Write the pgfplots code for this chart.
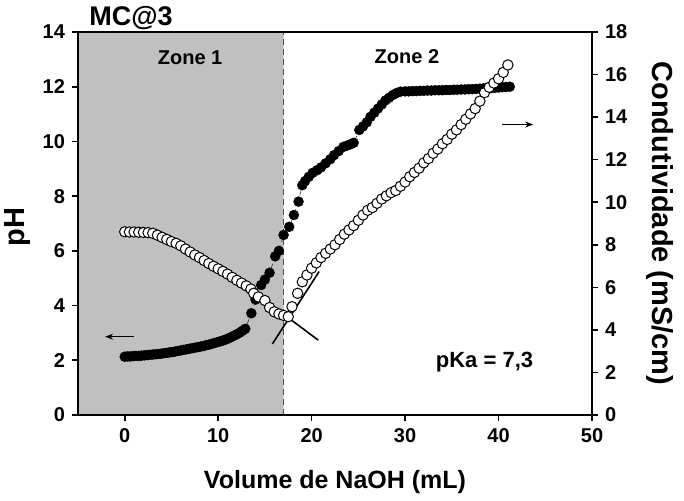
\documentclass[border=0pt]{standalone}
\usepackage{fontspec}
\setmainfont{Liberation Sans}
\usepackage{pgfplots}
\usepackage{pgfplotstable}
\pgfplotsset{compat=1.18}
\usetikzlibrary{arrows.meta}
\definecolor{zonegray}{RGB}{192,192,192}

\pgfplotstableread{
x y
0.0 2.13
0.3 2.14
0.6 2.14
0.9 2.15
1.2 2.16
1.5 2.16
1.8 2.17
2.1 2.18
2.4 2.19
2.7 2.20
3.0 2.21
3.3 2.22
3.6 2.23
3.9 2.24
4.2 2.26
4.5 2.27
4.8 2.29
5.1 2.30
5.4 2.32
5.7 2.34
6.0 2.36
6.3 2.38
6.6 2.40
6.9 2.42
7.2 2.44
7.5 2.46
7.8 2.48
8.1 2.50
8.4 2.52
8.7 2.55
9.0 2.57
9.3 2.60
9.6 2.63
9.9 2.66
10.2 2.69
10.5 2.72
10.8 2.76
11.1 2.80
11.4 2.85
11.7 2.90
12.0 2.95
12.3 3.01
12.6 3.08
12.9 3.15
13.55 3.72
14.0 4.22
14.6 4.75
15.0 4.95
15.5 5.20
16.1 5.80
16.5 6.00
17.0 6.58
17.6 6.88
18.1 7.31
18.6 7.80
19.0 8.40
19.3 8.55
19.7 8.71
20.1 8.85
20.6 8.95
21.0 9.05
21.5 9.20
22.0 9.35
22.4 9.50
22.9 9.65
23.4 9.80
23.8 9.85
24.2 9.90
24.5 9.95
25.1 10.42
25.5 10.55
25.9 10.70
26.3 10.90
26.7 11.05
27.1 11.20
27.5 11.35
27.9 11.50
28.3 11.60
28.7 11.70
29.1 11.77
29.5 11.82
30.0 11.83
30.4 11.83
30.8 11.84
31.2 11.84
31.6 11.85
32.0 11.85
32.4 11.86
32.8 11.86
33.2 11.87
33.6 11.87
34.0 11.87
34.4 11.88
34.8 11.88
35.2 11.89
35.6 11.89
36.0 11.90
36.4 11.90
36.8 11.91
37.2 11.91
37.6 11.92
38.0 11.93
38.4 11.94
38.8 11.95
39.2 11.95
39.6 11.96
40.0 11.97
40.4 11.98
40.8 11.99
41.2 12.00
}\phdata

\pgfplotstableread{
x y
0.0 8.61
0.5 8.60
1.0 8.60
1.5 8.59
2.0 8.58
2.5 8.57
3.0 8.54
3.5 8.45
4.0 8.35
4.5 8.25
5.0 8.15
5.5 8.07
6.0 7.95
6.5 7.80
7.0 7.66
7.5 7.52
8.0 7.40
8.5 7.26
9.0 7.12
9.5 6.99
10.0 6.87
10.5 6.75
11.0 6.62
11.5 6.47
12.0 6.33
12.5 6.20
13.0 6.07
13.5 5.92
13.8 5.72
14.3 5.55
15.0 5.38
15.5 5.05
16.0 4.85
16.5 4.75
17.0 4.68
17.5 4.62
17.9 5.09
18.5 5.72
19.0 6.26
19.5 6.58
20.0 6.90
20.5 7.15
21.0 7.40
21.5 7.60
22.0 7.80
22.5 8.00
23.0 8.25
23.5 8.50
24.0 8.70
24.5 8.90
25.0 9.15
25.5 9.40
26.0 9.62
26.5 9.75
27.0 9.95
27.5 10.15
28.0 10.30
28.5 10.45
29.0 10.55
29.5 10.75
30.0 10.95
30.5 11.20
31.0 11.40
31.5 11.60
32.0 11.85
32.5 12.05
33.0 12.30
33.5 12.50
34.0 12.75
34.5 12.95
35.0 13.20
35.5 13.40
36.0 13.65
36.5 13.90
37.0 14.15
37.5 14.40
38.0 14.75
38.5 15.15
39.0 15.40
39.5 15.60
40.0 15.80
40.5 16.10
41.0 16.45
}\conddata

\begin{document}
\begin{tikzpicture}
\begin{axis}[
  name=ax,
  scale only axis, width=257pt, height=191.5pt,
  xmin=-5, xmax=50, ymin=0, ymax=14,
  xtick={0,10,20,30,40,50}, ytick={0,2,4,6,8,10,12,14},
  tick pos=left, tick align=outside, major tick length=3pt,
  axis line style={line width=0.8pt}, tick style={line width=0.8pt,black},
  axis on top,
  /pgf/number format/assume math mode=true,
  tick label style={font=\fontsize{10}{12}\selectfont\bfseries},
  xlabel={Volume de NaOH (mL)}, ylabel={pH},
  xlabel style={font=\fontsize{12.5}{15}\selectfont\bfseries, at={(axis description cs:0.5,-0.175)}, anchor=center},
  ylabel style={font=\fontsize{14.5}{16}\selectfont\bfseries, at={(axis description cs:-0.117,0.49)}, anchor=center},
]
\addplot[fill=zonegray, draw=none] coordinates {(-5,0) (17,0) (17,14) (-5,14)} \closedcycle;
\addplot[densely dashed, thin, black!70] coordinates {(17,0) (17,14)};
\addplot[black, densely dashed, very thin, mark=*, mark size=2.5pt,
  mark options={solid, fill=black}] table {\phdata};
\node[font=\fontsize{10}{12}\selectfont\bfseries] at (axis cs:7,13.05) {Zone 1};
\node[font=\fontsize{10}{12}\selectfont\bfseries] at (axis cs:30.2,13.1) {Zone 2};
\node[font=\fontsize{11}{13}\selectfont\bfseries] at (axis cs:38.5,1.95) {pKa = 7,3};
\end{axis}
\begin{axis}[
  scale only axis, width=257pt, height=191.5pt,
  xmin=-5, xmax=50, ymin=0, ymax=18,
  axis x line=none, axis y line*=right,
  ytick={0,2,4,6,8,10,12,14,16,18},
  tick align=outside, major tick length=3pt,
  axis line style={line width=0.8pt}, tick style={line width=0.8pt,black},
  /pgf/number format/assume math mode=true,
  tick label style={font=\fontsize{10}{12}\selectfont\bfseries},
  ylabel={Condutividade (mS/cm)},
  ylabel style={font=\fontsize{14.5}{16}\selectfont\bfseries, at={(axis description cs:1.132,0.5)}, anchor=center, rotate=-180},
]
\addplot[only marks, mark=*, mark size=2.6pt,
  mark options={fill=white, draw=black, line width=0.5pt}] table {\conddata};
\addplot[black, line width=0.8pt] coordinates {(14.0,5.72) (20.7,3.52)};
\addplot[black, line width=0.8pt] coordinates {(15.8,3.34) (20.8,6.74)};
\addplot[black, line width=0.6pt, -{Stealth[length=4pt,width=3pt]}] coordinates {(1.0,3.68) (-2.1,3.68)};
\addplot[black, line width=0.6pt, -{Stealth[length=4pt,width=3pt]}] coordinates {(40.4,13.65) (43.7,13.65)};
\end{axis}
\node[font=\fontsize{13.5}{15}\selectfont\bfseries, anchor=base west, inner sep=0pt] at ([xshift=5.5pt,yshift=3pt]ax.north west) {MC@3};
\pgfresetboundingbox
\path ([xshift=-39pt,yshift=-43pt]ax.south west) rectangle ([xshift=46pt,yshift=16pt]ax.north east);
\end{tikzpicture}
\end{document}
